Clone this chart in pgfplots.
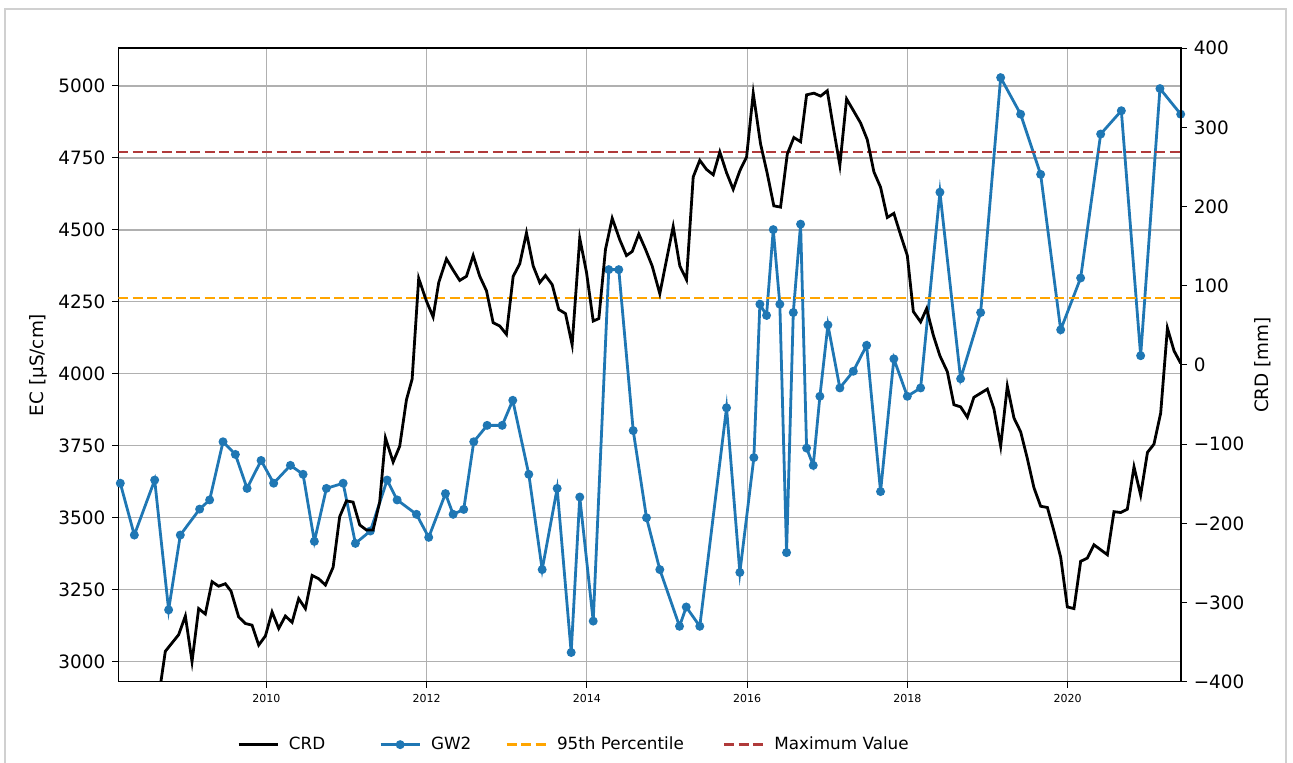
\documentclass[border=0pt]{standalone}
\usepackage{fontspec}
\setmainfont{DejaVu Sans}
\usepackage{pgfplots}
\usepackage{pgfplotstable}
\pgfplotsset{compat=1.18}
\definecolor{gwblue}{HTML}{1F77B4}
\definecolor{pctorange}{HTML}{FFA500}
\definecolor{maxred}{HTML}{B03A3A}
\definecolor{gridgray}{HTML}{B0B0B0}
\definecolor{framegray}{HTML}{D0D0D0}

\pgfplotstableread{
x y
2008.177 3620
2008.352 3440
2008.606 3631
2008.780 3180
2008.926 3440
2009.167 3530
2009.292 3562
2009.459 3764
2009.613 3720
2009.759 3602
2009.934 3699
2010.091 3620
2010.300 3682
2010.458 3651
2010.599 3418
2010.749 3602
2010.958 3620
2011.111 3411
2011.298 3454
2011.507 3631
2011.632 3562
2011.873 3512
2012.026 3432
2012.235 3584
2012.331 3512
2012.463 3529
2012.588 3764
2012.755 3821
2012.943 3821
2013.075 3908
2013.275 3651
2013.442 3320
2013.629 3602
2013.804 3032
2013.911 3572
2014.079 3141
2014.273 4362
2014.398 4362
2014.578 3803
2014.744 3500
2014.910 3320
2015.156 3123
2015.240 3190
2015.409 3123
2015.743 3882
2015.909 3310
2016.084 3709
2016.159 4242
2016.242 4203
2016.326 4501
2016.408 4242
2016.492 3379
2016.576 4213
2016.667 4520
2016.742 3742
2016.825 3682
2016.908 3922
2017.008 4170
2017.157 3951
2017.325 4009
2017.491 4099
2017.665 3591
2017.831 4052
2017.999 3922
2018.165 3951
2018.406 4631
2018.664 3983
2018.914 4213
2019.164 5029
2019.413 4902
2019.663 4693
2019.913 4153
2020.162 4333
2020.412 4833
2020.670 4914
2020.911 4063
2021.152 4991
2021.411 4902
}\gwtable

\pgfplotstableread{
x y
2008.655 -420
2008.739 -361.6
2008.823 -351
2008.905 -340.7
2008.989 -317
2009.072 -374.6
2009.155 -307.7
2009.238 -314.5
2009.322 -273.7
2009.404 -279.4
2009.488 -276.3
2009.559 -285.7
2009.654 -318.2
2009.738 -326.5
2009.821 -328.6
2009.904 -353.8
2009.988 -342.2
2010.071 -311.9
2010.154 -332.8
2010.237 -317.1
2010.321 -325
2010.403 -295.1
2010.487 -307.7
2010.571 -265.8
2010.653 -270
2010.737 -277.9
2010.833 -255.4
2010.915 -191.5
2010.999 -171.6
2011.082 -173.2
2011.165 -202
2011.248 -208.3
2011.332 -208.3
2011.414 -173.2
2011.486 -92.1
2011.582 -122.5
2011.664 -102.6
2011.748 -44
2011.819 -17.8
2011.901 109.4
2011.998 80.6
2012.081 60.7
2012.151 104.1
2012.247 134
2012.331 119.8
2012.413 106.8
2012.497 112
2012.581 138.2
2012.663 112
2012.747 93.7
2012.830 53.4
2012.913 49.2
2012.996 38.7
2013.080 112
2013.162 127.7
2013.246 166.9
2013.330 125
2013.412 104.1
2013.483 113
2013.567 101.5
2013.649 70.1
2013.733 64.9
2013.816 25.6
2013.911 160.1
2013.995 117.2
2014.079 55.5
2014.149 58.6
2014.232 146
2014.316 185.3
2014.411 158
2014.494 138.2
2014.566 143.4
2014.648 165.4
2014.732 146
2014.815 125
2014.910 90
2014.994 132.9
2015.077 174.8
2015.160 125
2015.243 107.8
2015.327 237.6
2015.409 258.5
2015.493 247
2015.577 240.2
2015.659 269
2015.743 242.8
2015.826 221.9
2015.909 245.4
2015.993 262.7
2016.076 343.3
2016.167 279.4
2016.251 241.8
2016.333 201
2016.417 199.4
2016.501 266.4
2016.583 287.3
2016.667 282
2016.742 341.2
2016.833 343.3
2016.917 339.6
2017.000 346.4
2017.075 300.4
2017.157 252.2
2017.241 336
2017.332 320.3
2017.416 305.6
2017.499 284.7
2017.582 243.9
2017.665 224.5
2017.749 186.3
2017.831 191.5
2017.915 164.3
2017.999 138.2
2018.074 67.5
2018.165 54.4
2018.240 71.2
2018.323 37.7
2018.406 11.5
2018.498 -8.4
2018.581 -50.2
2018.664 -52.9
2018.748 -65.9
2018.830 -40.8
2018.914 -35.6
2018.998 -30.4
2019.080 -55.5
2019.164 -102.6
2019.247 -26.7
2019.330 -67
2019.413 -84.3
2019.497 -118.3
2019.579 -154.9
2019.663 -178.4
2019.747 -180
2019.829 -209.8
2019.913 -242.8
2019.996 -305.6
2020.079 -307.7
2020.162 -248
2020.246 -243.9
2020.328 -227.1
2020.412 -233.4
2020.496 -239.7
2020.578 -185.3
2020.662 -186.3
2020.745 -182.1
2020.828 -128.7
2020.911 -164.3
2020.996 -110.4
2021.077 -100
2021.161 -60.7
2021.245 46.6
2021.328 17.8
2021.411 2.1
}\crdtable

\pgfplotsset{
  myaxis/.style={
    at={(59.15pt,40.65pt)}, anchor=south west,
    scale only axis, width=531.2pt, height=316.7pt,
    xmin=2008.152, xmax=2021.411,
    tick align=outside, major tick length=3pt,
    tick style={black, line width=0.5pt},
    axis line style={line width=0.8pt},
    y tick label style={font=\fontsize{9.2}{11}\selectfont},
    ylabel style={font=\fontsize{9.2}{11}\selectfont},
  }
}

\begin{document}
\begin{tikzpicture}[x=1pt,y=1pt]
\useasboundingbox (0,0) rectangle (646.5,381.5);
\draw[framegray, line width=0.8pt] (2.5,-5) rectangle (643,377);

\begin{axis}[myaxis,
  ymin=2930.5, ymax=5131,
  xtick={2010,2012,2014,2016,2018,2020},
  xticklabels={2010,2012,2014,2016,2018,2020},
  ytick={3000,3250,3500,3750,4000,4250,4500,4750,5000},
  yticklabels={3000,3250,3500,3750,4000,4250,4500,4750,5000},
  xtick pos=bottom, ytick pos=left,
  grid=major, major grid style={gridgray, line width=0.6pt},
  x tick label style={font=\fontsize{5.5}{6.6}\selectfont},
  ylabel={EC [µS/cm]},
  ylabel style={at={(axis description cs:-0.0756,0.5)}, anchor=center},
]
\addplot[gwblue, line width=1.4pt, mark=*, mark size=1.5pt] table {\gwtable};
\addplot[pctorange, line width=1.3pt, dash pattern=on 5pt off 2.2pt] coordinates {(2008.152,4264) (2021.411,4264)};
\addplot[maxred, line width=1.3pt, dash pattern=on 5pt off 2.2pt] coordinates {(2008.152,4770) (2021.411,4770)};
\end{axis}

\begin{axis}[myaxis,
  ymin=-400, ymax=400,
  axis x line=none, axis y line*=right,
  ytick={-400,-300,-200,-100,0,100,200,300,400},
  yticklabels={−400,−300,−200,−100,0,100,200,300,400},
  ylabel={CRD [mm]},
  ylabel style={at={(axis description cs:1.0772,0.5)}, anchor=center},
  legend columns=4,
  legend cell align=left,
  legend style={at={(axis description cs:0.4298,-0.0994)}, anchor=center,
    draw=none, fill=none, font=\fontsize{8.4}{10}\selectfont,
    /tikz/every odd column/.append style={column sep=3pt},
    /tikz/column 2/.style={column sep=25pt},
    /tikz/column 4/.style={column sep=15pt},
    /tikz/column 6/.style={column sep=17.5pt}},
  legend image code/.code={\draw[mark repeat=2,mark phase=2,#1] plot coordinates {(0pt,0pt) (9.75pt,0pt) (19.5pt,0pt)};},
]
\addlegendimage{black, line width=1.4pt}
\addlegendentry{CRD}
\addlegendimage{gwblue, line width=1.4pt, mark=*, mark size=1.5pt}
\addlegendentry{GW2}
\addlegendimage{pctorange, line width=1.3pt, dash pattern=on 5pt off 2.2pt}
\addlegendentry{95th Percentile}
\addlegendimage{maxred, line width=1.3pt, dash pattern=on 5pt off 2.2pt}
\addlegendentry{Maximum Value}
\addplot[black, line width=1.4pt, forget plot] table {\crdtable};
\end{axis}
\end{tikzpicture}
\end{document}
